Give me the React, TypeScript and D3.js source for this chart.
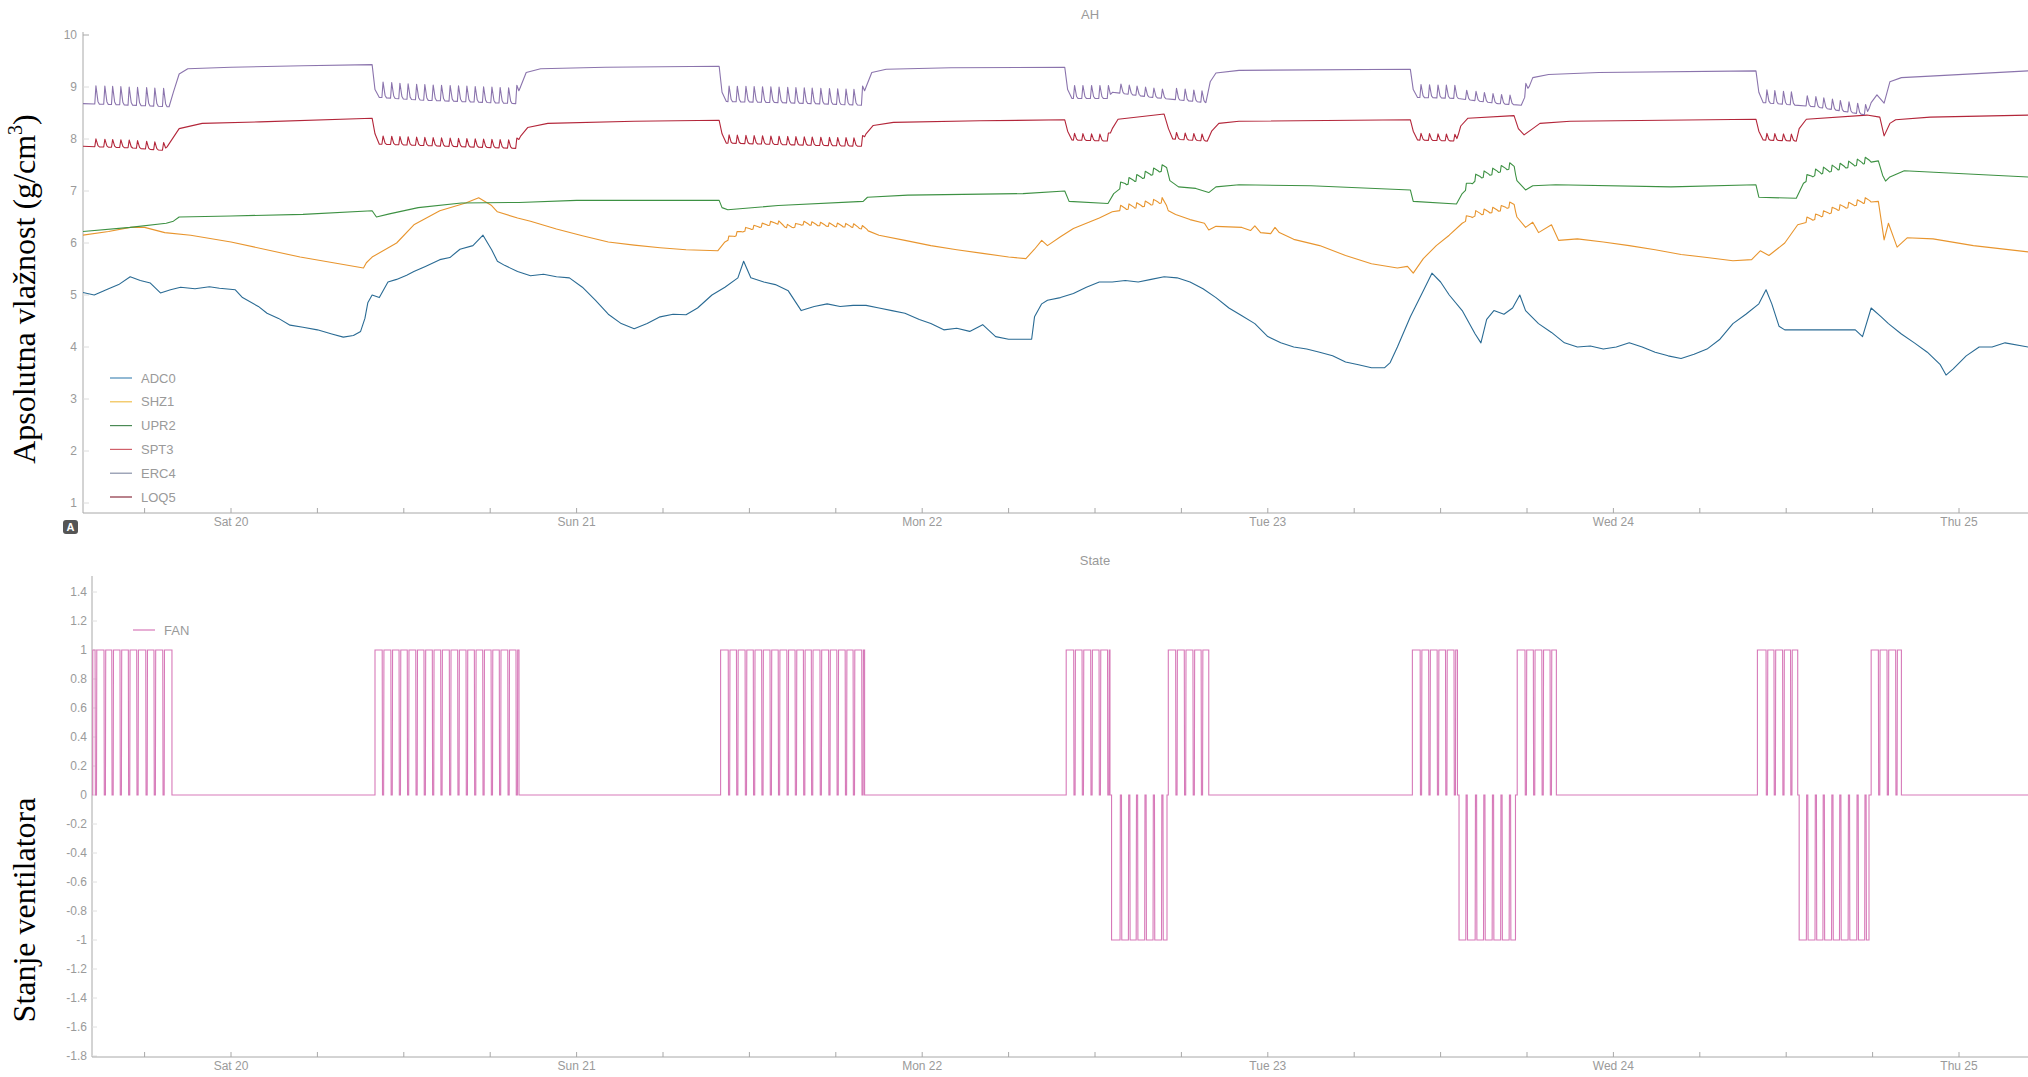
import React from 'react';
import * as d3 from 'd3';

// ---------- data (hours relative to Sat 20 00:00) ----------
const DAY_LABELS = ['Sat 20', 'Sun 21', 'Mon 22', 'Tue 23', 'Wed 24', 'Thu 25'];
const DAY_HOURS = [0, 24, 48, 72, 96, 120];
const TOP_Y_TICKS = [1, 2, 3, 4, 5, 6, 7, 8, 9, 10];
const BOT_Y_TICKS = [1.4, 1.2, 1, 0.8, 0.6, 0.4, 0.2, 0, -0.2, -0.4, -0.6, -0.8, -1, -1.2, -1.4, -1.6, -1.8];
const SERIES_NAMES = ['ADC0', 'SHZ1', 'UPR2', 'SPT3', 'ERC4', 'LOQ5'];

// FAN state blocks: [start, end, level]
const FAN_BLOCKS = [
  [-9.6, -4.1, 1], [10.0, 20.0, 1], [34.0, 44.0, 1],
  [58.0, 61.04, 1], [61.15, 65.0, -1], [65.09, 67.9, 1],
  [82.04, 85.17, 1], [85.28, 89.2, -1], [89.32, 92.04, 1],
  [106.0, 108.8, 1], [108.9, 113.75, -1], [113.9, 116.0, 1],
];
// times of the short pulses back to 0 inside each block
const FAN_EVENTS = [
  -9.44, -8.82, -8.28, -7.71, -7.13, -6.55, -5.92, -5.35, -4.74,
  10.5, 11.1, 11.67, 12.24, 12.83, 13.4, 13.98, 14.56, 15.16, 15.74, 16.32, 16.9, 17.48, 18.06, 18.63, 19.22, 19.79,
  34.53, 35.1, 35.7, 36.27, 36.85, 37.43, 38.0, 38.6, 39.17, 39.75, 40.3, 40.9, 41.5, 42.07, 42.65, 43.2, 43.8,
  58.52, 59.1, 59.7, 60.28, 60.87,
  61.74, 62.32, 62.86, 63.45, 64.03, 64.62,
  65.6, 66.2, 66.8, 67.37,
  82.58, 83.17, 83.76, 84.34, 84.93,
  85.75, 86.4, 86.98, 87.58, 88.17, 88.76,
  89.86, 90.44, 91.03, 91.6,
  106.6, 107.15, 107.75, 108.3,
  109.4, 110.0, 110.55, 111.15, 111.7, 112.3, 112.9, 113.45,
  114.4, 115.0, 115.6,
];

const ADC0 = [
  [-10.3, 5.05], [-9.5, 5.0], [-8.5, 5.12], [-7.8, 5.2], [-7.0, 5.35], [-6.3, 5.28], [-5.6, 5.23], [-4.9, 5.04],
  [-4.2, 5.1], [-3.5, 5.15], [-2.5, 5.12], [-1.5, 5.16], [-0.8, 5.13], [0.3, 5.1], [0.8, 4.95], [1.9, 4.78],
  [2.5, 4.65], [3.3, 4.55], [4.1, 4.42], [5, 4.38], [6, 4.33], [7, 4.25], [7.8, 4.19], [8.5, 4.22], [9.0, 4.3],
  [9.3, 4.55], [9.5, 4.85], [9.8, 5.0], [10.3, 4.95], [10.9, 5.25], [11.5, 5.3], [12.2, 5.38], [12.7, 5.45],
  [13.5, 5.55], [14.5, 5.68], [15.2, 5.72], [15.9, 5.88], [16.8, 5.95], [17.5, 6.15], [18.1, 5.87], [18.5, 5.65],
  [19.0, 5.57], [19.9, 5.45], [20.8, 5.37], [21.7, 5.4], [22.6, 5.35], [23.5, 5.33], [24.4, 5.15], [25.3, 4.9],
  [26.2, 4.63], [27.1, 4.45], [28, 4.35], [28.9, 4.45], [29.8, 4.58], [30.7, 4.63], [31.6, 4.62], [32.4, 4.75],
  [33.4, 5.0], [34.3, 5.15], [35.2, 5.33], [35.6, 5.65], [36.1, 5.33], [37, 5.25], [37.8, 5.2], [38.7, 5.08],
  [39.6, 4.7], [40.5, 4.78], [41.4, 4.83], [42.3, 4.78], [43.2, 4.8], [44.1, 4.8], [45, 4.75], [45.9, 4.7],
  [46.8, 4.65], [47.8, 4.53], [48.6, 4.45], [49.5, 4.33], [50.4, 4.36], [51.3, 4.3], [52.2, 4.43], [53.1, 4.2],
  [54, 4.15], [54.9, 4.15], [55.6, 4.15], [55.8, 4.58], [56.3, 4.83], [56.7, 4.9], [57.6, 4.95], [58.5, 5.03],
  [59.4, 5.15], [60.3, 5.25], [61.2, 5.25], [62.1, 5.28], [63, 5.25], [63.9, 5.3], [64.8, 5.35], [65.7, 5.33],
  [66.6, 5.25], [67.5, 5.12], [68.4, 4.95], [69.3, 4.75], [70.2, 4.6], [71.1, 4.45], [72, 4.2], [72.9, 4.08],
  [73.8, 4.0], [74.7, 3.96], [75.6, 3.9], [76.5, 3.83], [77.4, 3.71], [78.3, 3.66], [79.2, 3.6], [80.1, 3.6],
  [80.5, 3.7], [81, 4.0], [81.9, 4.58], [82.8, 5.08], [83.4, 5.42], [84, 5.25], [84.6, 5.0], [85.5, 4.7],
  [86.4, 4.25], [86.8, 4.08], [87.2, 4.53], [87.7, 4.7], [88.4, 4.63], [89, 4.75], [89.5, 5.0], [89.9, 4.7],
  [90.8, 4.45], [91.7, 4.28], [92.6, 4.08], [93.5, 4.0], [94.4, 4.02], [95.3, 3.96], [96.2, 4.0], [97.1, 4.08],
  [98, 4.0], [98.9, 3.9], [99.8, 3.83], [100.7, 3.78], [101.6, 3.86], [102.5, 3.96], [103.4, 4.15], [104.3, 4.45],
  [105.2, 4.63], [106.1, 4.83], [106.6, 5.1], [107, 4.83], [107.5, 4.4], [107.9, 4.33], [112.8, 4.33],
  [113.3, 4.2], [113.9, 4.75], [114.6, 4.58], [115.1, 4.45], [116, 4.25], [116.9, 4.08], [117.8, 3.9],
  [118.7, 3.66], [119.1, 3.46], [119.6, 3.58], [120.5, 3.83], [121.4, 4.0], [122.3, 4.0], [123.2, 4.08], [124.8, 4.0],
];

const SHZ1 = [
  [-10.3, 6.15], [-8.5, 6.22], [-7, 6.3], [-6, 6.3], [-4.6, 6.2], [-2.8, 6.15], [0, 6.02], [4.8, 5.73],
  [7.1, 5.62], [9.2, 5.52], [9.4, 5.62], [9.8, 5.73], [11.5, 6.0], [12.7, 6.35], [14.5, 6.62], [16.3, 6.77],
  [17.2, 6.87], [18.1, 6.72], [18.5, 6.6], [19.9, 6.48], [20.8, 6.42], [22.6, 6.27], [24.4, 6.14], [26.2, 6.02],
  [28, 5.96], [29.8, 5.91], [31.6, 5.87], [33.8, 5.85], [34.3, 6.02], [35.6, 6.22], [37, 6.32], [37.9, 6.37],
  [38.8, 6.27], [39.7, 6.35], [41.5, 6.32], [43.3, 6.3], [44.1, 6.25], [45, 6.15], [46.8, 6.05], [48.6, 5.95],
  [50.4, 5.87], [52.2, 5.8], [54, 5.73], [55.2, 5.7], [55.8, 5.88], [56.3, 6.05], [56.7, 5.95], [57.6, 6.12],
  [58.5, 6.28], [60.3, 6.48], [61.2, 6.6], [63, 6.68], [64.8, 6.78], [65.1, 6.62], [65.6, 6.55], [66.6, 6.45],
  [67.6, 6.38], [67.9, 6.25], [68.4, 6.32], [70.2, 6.3], [70.8, 6.24], [71.1, 6.33], [71.5, 6.2], [72.2, 6.18],
  [72.5, 6.3], [72.8, 6.2], [73.8, 6.07], [75.6, 5.95], [77.4, 5.76], [79.2, 5.6], [81, 5.52], [81.7, 5.55],
  [82.1, 5.42], [82.8, 5.7], [83.7, 5.95], [84.6, 6.15], [85.5, 6.38], [86.4, 6.52], [88.2, 6.62], [89.1, 6.72],
  [89.3, 6.5], [89.9, 6.3], [90.4, 6.4], [90.8, 6.2], [91.7, 6.35], [92.2, 6.05], [93.5, 6.08], [95.3, 6.02],
  [97.1, 5.95], [98.9, 5.87], [100.7, 5.78], [102.5, 5.72], [104.3, 5.66], [105.6, 5.68], [106.2, 5.85],
  [106.8, 5.76], [107.9, 6.0], [108.8, 6.35], [109.7, 6.42], [111.5, 6.62], [113.6, 6.78], [114.4, 6.8],
  [114.8, 6.06], [115.1, 6.38], [115.7, 5.92], [116.4, 6.1], [118.2, 6.08], [121, 5.95], [124.8, 5.83],
];

const UPR2 = [
  [-10.3, 6.22], [-7, 6.3], [-4.5, 6.38], [-4.0, 6.42], [-3.6, 6.5], [0, 6.52], [5, 6.55], [9.8, 6.62],
  [10.1, 6.5], [11, 6.56], [13, 6.68], [16, 6.77], [20, 6.78], [24, 6.82], [33.9, 6.82], [34.1, 6.68],
  [34.5, 6.64], [38, 6.72], [43.9, 6.8], [44.2, 6.88], [47, 6.92], [55, 6.95], [57.9, 7.0], [58.2, 6.8],
  [60.9, 6.76], [61.3, 6.95], [62, 7.1], [65.0, 7.42], [65.2, 7.2], [65.8, 7.08], [67, 7.05], [67.9, 6.97],
  [68.4, 7.08], [70, 7.12], [75, 7.1], [81.9, 7.02], [82.1, 6.8], [85.1, 6.75], [85.5, 6.95], [86.5, 7.22],
  [89.1, 7.45], [89.3, 7.2], [89.9, 7.02], [90.4, 7.1], [92, 7.12], [100, 7.08], [105.9, 7.12], [106.1, 6.88],
  [108.7, 6.86], [109.2, 7.15], [110, 7.3], [113.8, 7.55], [114.4, 7.58], [114.7, 7.3], [114.9, 7.19],
  [115.2, 7.27], [116.2, 7.39], [124.8, 7.27],
];

const SPT3 = [
  [-10.3, 7.86], [-7, 7.83], [-4.6, 7.78], [-4.2, 7.95], [-3.6, 8.2], [-2, 8.3], [2, 8.33], [9.8, 8.4],
  [10.0, 8.1], [10.3, 7.9], [15, 7.86], [19.8, 7.82], [20.1, 8.05], [20.6, 8.22], [22, 8.3], [28, 8.34],
  [33.9, 8.36], [34.1, 8.1], [34.4, 7.92], [40, 7.88], [43.8, 7.86], [44.1, 8.1], [44.6, 8.26], [46, 8.32],
  [52, 8.35], [57.9, 8.37], [58.1, 8.15], [58.4, 7.98], [60.9, 7.96], [61.2, 8.2], [61.6, 8.38], [64.8, 8.48],
  [65.1, 8.2], [65.4, 8.0], [67.8, 7.96], [68.1, 8.15], [68.6, 8.3], [70, 8.34], [81.9, 8.37], [82.1, 8.15],
  [82.4, 7.98], [85.1, 7.96], [85.4, 8.25], [85.9, 8.4], [89.1, 8.45], [89.4, 8.2], [89.8, 8.08], [90.4, 8.2],
  [90.9, 8.3], [93, 8.34], [105.9, 8.38], [106.1, 8.15], [106.4, 7.98], [108.7, 7.96], [108.9, 8.2],
  [109.4, 8.38], [113.6, 8.46], [114.5, 8.42], [114.8, 8.06], [115.2, 8.3], [115.6, 8.37], [118, 8.42], [124.8, 8.46],
];

const ERC4 = [
  [-10.3, 8.68], [-8, 8.66], [-6, 8.64], [-4.3, 8.62], [-4.0, 8.9], [-3.6, 9.25], [-3.0, 9.35], [0, 9.38],
  [5, 9.41], [9.8, 9.43], [10.0, 8.95], [10.3, 8.8], [13, 8.75], [16, 8.72], [19.8, 8.68], [20.1, 9.0],
  [20.5, 9.28], [21.5, 9.35], [26, 9.38], [33.9, 9.4], [34.1, 8.9], [34.4, 8.72], [38, 8.7], [43.8, 8.65],
  [44.1, 9.0], [44.5, 9.28], [45.5, 9.34], [50, 9.37], [57.9, 9.38], [58.1, 8.95], [58.4, 8.78], [61.0, 8.78],
  [61.2, 8.9], [64, 8.8], [67.7, 8.7], [68.0, 9.1], [68.4, 9.27], [70, 9.32], [81.9, 9.34], [82.1, 8.95],
  [82.4, 8.8], [85.2, 8.78], [88, 8.68], [89.6, 8.65], [90.0, 8.9], [90.4, 9.18], [91.5, 9.24], [95, 9.28],
  [105.9, 9.31], [106.1, 8.9], [106.4, 8.7], [110, 8.62], [113.6, 8.46], [113.9, 8.7], [114.3, 8.85],
  [114.8, 8.69], [115.2, 9.1], [116, 9.18], [118, 9.21], [124.8, 9.31],
];

// spikes that follow each FAN pulse: [from, to, amplitude]
const ERC4_SPIKES = [
  [-10.3, -4.0, 0.35], [10, 20.1, 0.3], [34, 44.1, 0.3], [58, 61.1, 0.25], [61.1, 65.05, 0.18], [65.05, 68, 0.22],
  [82, 85.2, 0.25], [85.2, 89.25, 0.18], [89.25, 90, 0.22], [106, 108.85, 0.25], [108.85, 113.6, 0.2],
];
const SPT3_SPIKES = [
  [-10.3, -4.5, 0.15], [10, 19.9, 0.16], [34, 43.9, 0.16], [58, 61.1, 0.13], [65.05, 68, 0.13],
  [82, 85.2, 0.13], [106, 108.85, 0.13],
];
const UPR2_SPIKES = [[61.1, 65.05, 0.12], [85.2, 89.25, 0.12], [108.85, 113.8, 0.12]];
const SHZ1_SPIKES = [[34, 44.1, 0.07], [61.1, 65.05, 0.1], [85.2, 89.25, 0.1], [108.85, 113.8, 0.1]];

// ---------- helpers ----------
const NARROW = [[-0.02, 0], [0.06, 1], [0.2, 0.15], [0.3, 0]];
const SAW = [[-0.02, 0], [0.04, 1], [0.35, 0.3], [0.45, 0]];

function interp(pts: number[][], t: number) {
  const i = d3.bisector((d: number[]) => d[0]).left(pts, t);
  if (i <= 0) return pts[0][1];
  if (i >= pts.length) return pts[pts.length - 1][1];
  const a = pts[i - 1], b = pts[i];
  return a[1] + ((b[1] - a[1]) * (t - a[0])) / (b[0] - a[0]);
}

function withSpikes(base: number[][], spikes: number[][], shape: number[][]) {
  const evs: number[][] = [];
  spikes.forEach(([a, b, amp]) => {
    FAN_EVENTS.forEach((t) => { if (t >= a && t <= b) evs.push([t, amp]); });
  });
  const w0 = shape[0][0], w1 = shape[shape.length - 1][0];
  const out = base.filter((p) => !evs.some(([t]) => p[0] > t + w0 && p[0] < t + w1)).map((p) => [p[0], p[1]]);
  evs.forEach(([t, amp]) => {
    shape.forEach(([dt, f]) => out.push([t + dt, interp(base, t + dt) + amp * f]));
  });
  out.sort((p, q) => p[0] - q[0]);
  return out;
}

function fanPoints() {
  const pts: number[][] = [[-9.7, 0]];
  FAN_BLOCKS.forEach(([s, e, lvl]) => {
    pts.push([s, 0], [s, lvl]);
    FAN_EVENTS.forEach((t) => {
      if (t > s && t < e) pts.push([t, lvl], [t + 0.02, 0], [t + 0.1, 0], [t + 0.12, lvl]);
    });
    pts.push([e, lvl], [e, 0]);
  });
  pts.push([125, 0]);
  return pts;
}

const FONT = '"Liberation Sans", Arial, sans-serif';
const GRAY = '#9a9a9a';
const AXIS = '#a8a8a8';

export default function App() {
  const PX0 = 231, PXH = 14.4; // Sat 20 pixel, pixels per hour
  const RIGHT = 2028;
  const topL = 83, topT = 32, topB = 513;
  const botL = 92, botT = 576, botB = 1057;

  const xTop = d3.scaleLinear().domain([(topL - PX0) / PXH, (RIGHT - PX0) / PXH]).range([topL, RIGHT]);
  const xBot = d3.scaleLinear().domain([(botL - PX0) / PXH, (RIGHT - PX0) / PXH]).range([botL, RIGHT]);
  const yTop = d3.scaleLinear().domain([(555 - topB) / 52, (555 - topT) / 52]).range([topB, topT]);
  const yBot = d3.scaleLinear().domain([-(botB - 795) / 145, (795 - botT) / 145]).range([botB, botT]);

  const lineTop = d3.line<number[]>().x((d) => xTop(d[0])).y((d) => yTop(d[1]));
  const lineBot = d3.line<number[]>().x((d) => xBot(d[0])).y((d) => yBot(d[1]));

  const series = [
    { name: 'ADC0', pts: ADC0, color: '#2a6b94' },
    { name: 'SHZ1', pts: withSpikes(SHZ1, SHZ1_SPIKES, SAW), color: '#e8952e' },
    { name: 'UPR2', pts: withSpikes(UPR2, UPR2_SPIKES, SAW), color: '#3d9143' },
    { name: 'SPT3', pts: withSpikes(SPT3, SPT3_SPIKES, NARROW), color: '#b3263a' },
    { name: 'ERC4', pts: withSpikes(ERC4, ERC4_SPIKES, NARROW), color: '#8b74ad' },
  ];
  const legendColors = ['#4a8ab8', '#f0c04e', '#4a8a55', '#d0606a', '#8890a8', '#8a3040'];

  const hourTicks = d3.range(-6, 125, 6);

  const xAxis = (x: d3.ScaleLinear<number, number>, y0: number, left: number) => (
    <g>
      <line x1={left} x2={RIGHT} y1={y0} y2={y0} stroke={AXIS} strokeWidth={1} />
      {hourTicks.filter((h) => x(h) >= left).map((h) => (
        <line key={h} x1={x(h)} x2={x(h)} y1={y0} y2={y0 - 5} stroke={AXIS} strokeWidth={1} />
      ))}
      {DAY_HOURS.map((h, i) => (
        <text key={h} x={x(h)} y={y0 + 13} textAnchor="middle" fontFamily={FONT} fontSize={12} fill={GRAY}>
          {DAY_LABELS[i]}
        </text>
      ))}
    </g>
  );

  const fan = fanPoints();

  return (
    <svg width={2028} height={1077} style={{ position: 'absolute', left: 0, top: 0, background: '#fff' }}>
      <defs>
        <clipPath id="clipTop"><rect x={topL} y={topT} width={RIGHT - topL} height={topB - topT} /></clipPath>
        <clipPath id="clipBot"><rect x={botL} y={botT} width={RIGHT - botL} height={botB - botT} /></clipPath>
      </defs>
      <rect x={0} y={0} width={2028} height={1077} fill="#fff" />

      {/* ---------- top chart ---------- */}
      <text x={1090} y={19} textAnchor="middle" fontFamily={FONT} fontSize={13} fill={GRAY}>AH</text>
      <line x1={topL} x2={topL} y1={topT} y2={topB} stroke={AXIS} strokeWidth={1} />
      {TOP_Y_TICKS.map((v) => (
        <g key={v}>
          <line x1={topL} x2={topL + 6} y1={yTop(v)} y2={yTop(v)} stroke={v === 10 ? AXIS : '#dcdcdc'} />
          <text x={topL - 6} y={yTop(v) + 4} textAnchor="end" fontFamily={FONT} fontSize={12} fill={GRAY}>{v}</text>
        </g>
      ))}
      {xAxis(xTop, topB, topL)}
      <g clipPath="url(#clipTop)">
        {series.map((s) => (
          <path key={s.name} d={lineTop(s.pts) || ''} fill="none" stroke={s.color} strokeWidth={1.1} strokeLinejoin="round" />
        ))}
      </g>
      {SERIES_NAMES.map((n, i) => (
        <g key={n}>
          <line x1={110} x2={132} y1={378 + i * 23.8} y2={378 + i * 23.8} stroke={legendColors[i]} strokeWidth={1.2} />
          <text x={141} y={378 + i * 23.8 + 4.5} fontFamily={FONT} fontSize={13} fill={GRAY}>{n}</text>
        </g>
      ))}
      <rect x={63} y={520} width={15} height={14} rx={3} fill="#555" />
      <text x={70.5} y={531} textAnchor="middle" fontFamily={FONT} fontSize={11} fontWeight="bold" fill="#fff">A</text>

      <text transform="translate(35,289) rotate(-90)" textAnchor="middle" fontFamily='"Liberation Serif", "Times New Roman", serif' fontSize={32} fill="#000">
        Apsolutna vlažnost (g/cm<tspan fontSize={20} dy={-13}>3</tspan><tspan dy={13}>)</tspan>
      </text>

      {/* ---------- bottom chart ---------- */}
      <text x={1095} y={565} textAnchor="middle" fontFamily={FONT} fontSize={13} fill={GRAY}>State</text>
      <line x1={botL} x2={botL} y1={botT} y2={botB} stroke={AXIS} strokeWidth={1} />
      {BOT_Y_TICKS.map((v) => (
        <g key={v}>
          <line x1={botL} x2={botL + 5} y1={yBot(v)} y2={yBot(v)} stroke="#e0e0e0" />
          <text x={botL - 5} y={yBot(v) + 4} textAnchor="end" fontFamily={FONT} fontSize={12} fill={GRAY}>{String(v)}</text>
        </g>
      ))}
      {xAxis(xBot, botB, botL)}
      <g clipPath="url(#clipBot)">
        <path d={lineBot(fan) || ''} fill="none" stroke="#d77ab9" strokeWidth={1.1} />
      </g>
      <line x1={133} x2={155} y1={630} y2={630} stroke="#d77ab9" strokeWidth={1.2} />
      <text x={164} y={634.5} fontFamily={FONT} fontSize={13} fill={GRAY}>FAN</text>

      <text transform="translate(35,910) rotate(-90)" textAnchor="middle" fontFamily='"Liberation Serif", "Times New Roman", serif' fontSize={32} fill="#000">
        Stanje ventilatora
      </text>
    </svg>
  );
}
